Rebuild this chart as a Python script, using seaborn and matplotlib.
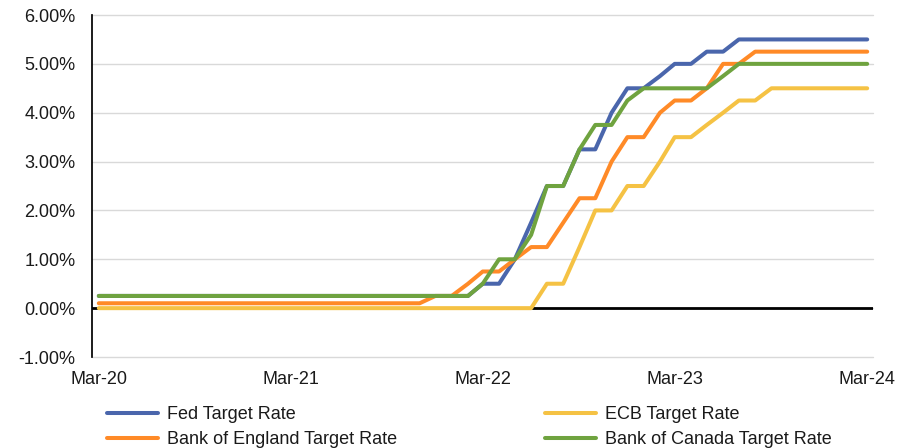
import matplotlib
matplotlib.use("Agg")
import matplotlib.pyplot as plt
import matplotlib.dates as mdates
import seaborn as sns
import pandas as pd
from matplotlib.ticker import FuncFormatter

# monthly policy rates, Mar-20 .. Mar-24 (%)
months = pd.date_range("2020-03-01", periods=49, freq="MS")
fed = [0.25] * 24 + [0.5, 0.5, 1.0, 1.75, 2.5, 2.5, 3.25, 3.25, 4.0, 4.5, 4.5, 4.75,
                     5.0, 5.0, 5.25, 5.25] + [5.5] * 9
ecb = [0.0] * 28 + [0.5, 0.5, 1.25, 2.0, 2.0, 2.5, 2.5, 3.0, 3.5, 3.5, 3.75, 4.0,
                    4.25, 4.25] + [4.5] * 7
boe = [0.1] * 21 + [0.25, 0.25, 0.5, 0.75, 0.75, 1.0, 1.25, 1.25, 1.75, 2.25, 2.25,
                    3.0, 3.5, 3.5, 4.0, 4.25, 4.25, 4.5, 5.0, 5.0] + [5.25] * 8
boc = [0.25] * 24 + [0.5, 1.0, 1.0, 1.5, 2.5, 2.5, 3.25, 3.75, 3.75, 4.25, 4.5, 4.5,
                     4.5, 4.5, 4.5, 4.75] + [5.0] * 9

series = ["Fed Target Rate", "ECB Target Rate",
          "Bank of England Target Rate", "Bank of Canada Target Rate"]
colors = ["#4A66AC", "#F5C244", "#FF8A27", "#6FA33F"]
y_ticks = [-1, 0, 1, 2, 3, 4, 5, 6]

df = pd.DataFrame({"Month": months, series[0]: fed, series[1]: ecb,
                   series[2]: boe, series[3]: boc})
long = df.melt(id_vars="Month", var_name="Series", value_name="Rate")

sns.set_theme(style="white")
plt.rcParams["font.family"] = ["Liberation Sans", "DejaVu Sans"]
plt.rcParams["text.color"] = "#1a1a1a"

fig = plt.figure(figsize=(9.17, 4.48), dpi=100)
ax = fig.add_axes([0.1003, 0.2031, 0.8517, 0.7634])

sns.lineplot(data=long, x="Month", y="Rate", hue="Series", hue_order=series,
             palette=colors, linewidth=2.9, ax=ax, sort=False, estimator=None)
for ln in ax.lines:
    ln.set_solid_capstyle("round")

ax.axhline(0, color="black", lw=2.0, zorder=1.5)

ax.set_ylim(-1, 6)
ax.set_yticks(y_ticks)
ax.yaxis.set_major_formatter(FuncFormatter(lambda v, p: f"{v:.2f}%"))
ax.set_xlim(months[0] - pd.Timedelta(days=13), months[-1] + pd.Timedelta(days=11))
ax.set_xticks(months[::12])
ax.xaxis.set_major_formatter(mdates.DateFormatter("%b-%y"))
ax.set_xlabel("")
ax.set_ylabel("")

ax.grid(axis="y", color="#D9D9D9", lw=1.0)
for gl in ax.get_ygridlines():
    gl.set_clip_on(False)
ax.set_axisbelow(True)
for s in ["top", "right", "bottom"]:
    ax.spines[s].set_visible(False)
ax.spines["left"].set_color("black")
ax.spines["left"].set_linewidth(1.25)
ax.tick_params(axis="y", length=0, pad=12, labelsize=13, labelcolor="#1a1a1a")
ax.tick_params(axis="x", length=0, pad=10, labelsize=13, labelcolor="#1a1a1a")

leg = ax.get_legend()
handles = leg.legend_handles
labels = [t.get_text() for t in leg.get_texts()]
leg.remove()
for h in handles:
    h.set_linewidth(2.9)

common = dict(frameon=False, fontsize=13, handlelength=2.8, handletextpad=0.5,
              labelspacing=0.45, borderaxespad=0, borderpad=0)
fig.legend([handles[0], handles[2]], [labels[0], labels[2]],
           loc="upper left", bbox_to_anchor=(107 / 917, 1 - 406 / 448), **common)
fig.legend([handles[1], handles[3]], [labels[1], labels[3]],
           loc="upper left", bbox_to_anchor=(545 / 917, 1 - 406 / 448), **common)

fig.savefig("out.png", dpi=100)
